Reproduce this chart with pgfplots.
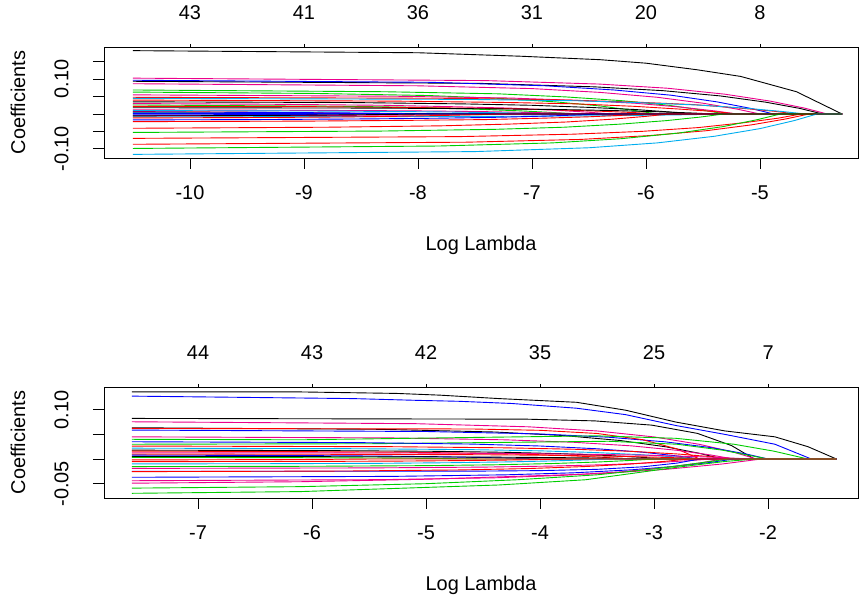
\documentclass[border=0pt]{standalone}
\usepackage{fontspec}
\setmainfont{Liberation Sans}
\usepackage{pgfplots}
\pgfplotsset{compat=1.18}
\definecolor{rgreen}{RGB}{0,205,0}
\pgfplotsset{
  glm/.style={scale only axis, width=754bp, height=111bp, anchor=south west,
    axis line style={line width=0.8bp}, tick style={line width=0.8bp, black},
    tick align=outside, major tick length=11bp,
    xtick pos=left, ytick pos=left,
    tick label style={font=\fontsize{20}{24}\selectfont},
    label style={font=\fontsize{20}{24}\selectfont},
    yticklabel style={rotate=90, anchor=south},
    xticklabel shift=13bp, yticklabel shift=21bp,
    xlabel={Log Lambda}, ylabel={Coefficients},
    xlabel style={at={(axis description cs:0.5,-0.79)}, anchor=center},
    ylabel style={at={(axis description cs:-0.114,0.5)}, anchor=center},
  },
  dfax/.style={scale only axis, width=754bp, height=111bp, anchor=south west,
    axis x line*=top, axis y line=none, axis line style={line width=0.8bp},
    tick style={line width=0.8bp, black}, tick align=outside, major tick length=3bp,
    tick label style={font=\fontsize{20}{24}\selectfont},
    xticklabel shift=21bp,
    ymin=0, ymax=1,
  },
  lk/.style={black, line width=0.9bp},
  lr/.style={red, line width=0.9bp},
  lg/.style={rgreen, line width=0.9bp},
  lb/.style={blue, line width=0.9bp},
  lc/.style={cyan, line width=0.9bp},
  lm/.style={magenta, line width=0.9bp},
}
\begin{document}
\begin{tikzpicture}
\path[use as bounding box] (0,0) rectangle (864bp,604bp);

% ---------- top panel ----------
\begin{axis}[glm, at={(104bp,446bp)},
  xmin=-10.754, xmax=-4.14, ymin=-0.1264, ymax=0.1925,
  xtick={-10,-9,-8,-7,-6,-5}, xticklabels={-10,-9,-8,-7,-6,-5},
  ytick={-0.10,-0.05,0,0.05,0.10,0.15}, yticklabels={-0.10,,,,0.10,}]
\addplot[lk] coordinates {(-10.5,0.182)(-8,0.176)(-7.1,0.166)(-6.4,0.156)(-6,0.146)(-5.55,0.127)(-5.17,0.108)(-4.68,0.064)(-4.28,0)};
\addplot[lm] coordinates {(-10.5,0.103)(-7.41,0.096)(-6.41,0.086)(-5.81,0.074)(-5.31,0.057)(-4.91,0.037)(-4.61,0.017)(-4.41,0)(-4.28,0)};
\addplot[lk] coordinates {(-10.5,0.094)(-7.45,0.088)(-6.45,0.078)(-5.85,0.067)(-5.35,0.052)(-4.95,0.034)(-4.65,0.016)(-4.45,0)(-4.28,0)};
\addplot[lb] coordinates {(-10.5,0.097)(-7.88,0.091)(-6.88,0.081)(-6.28,0.069)(-5.78,0.054)(-5.38,0.035)(-5.08,0.016)(-4.88,0)(-4.28,0)};
\addplot[lm] coordinates {(-10.5,0.087)(-8,0.081)(-7,0.073)(-6.4,0.062)(-5.9,0.048)(-5.5,0.031)(-5.2,0.014)(-5,0)(-4.28,0)};
\addplot[lg] coordinates {(-10.5,0.069)(-8.3,0.064)(-7.3,0.058)(-6.7,0.049)(-6.2,0.038)(-5.8,0.025)(-5.5,0.011)(-5.3,0)(-4.28,0)};
\addplot[lg] coordinates {(-10.5,0.063)(-8.9,0.059)(-7.9,0.053)(-7.3,0.045)(-6.8,0.035)(-6.4,0.023)(-6.1,0.010)(-5.9,0)(-4.28,0)};
\addplot[lm] coordinates {(-10.5,0.055)(-8.2,0.051)(-7.2,0.046)(-6.6,0.039)(-6.1,0.031)(-5.7,0.020)(-5.4,0.009)(-5.2,0)(-4.28,0)};
\addplot[lr] coordinates {(-10.5,0.048)(-7.68,0.045)(-6.68,0.040)(-6.08,0.034)(-5.58,0.027)(-5.18,0.017)(-4.88,0.008)(-4.68,0)(-4.28,0)};
\addplot[lc] coordinates {(-10.5,0.045)(-7.6,0.042)(-6.6,0.038)(-6,0.032)(-5.5,0.025)(-5.1,0.016)(-4.8,0.007)(-4.6,0)(-4.28,0)};
\addplot[lr] coordinates {(-10.5,0.040)(-8.2,0.037)(-7.2,0.033)(-6.6,0.029)(-6.1,0.022)(-5.7,0.014)(-5.4,0.007)(-5.2,0)(-4.28,0)};
\addplot[lk] coordinates {(-10.5,0.035)(-8.6,0.033)(-7.6,0.029)(-7,0.025)(-6.5,0.019)(-6.1,0.013)(-5.8,0.006)(-5.6,0)(-4.28,0)};
\addplot[lm] coordinates {(-10.5,0.030)(-9.3,0.028)(-8.3,0.025)(-7.7,0.021)(-7.2,0.017)(-6.8,0.011)(-6.5,0.005)(-6.3,0)(-4.28,0)};
\addplot[lg] coordinates {(-10.5,0.026)(-9.6,0.024)(-8.6,0.022)(-8,0.019)(-7.5,0.014)(-7.1,0.009)(-6.8,0.004)(-6.6,0)(-4.28,0)};
\addplot[lr] coordinates {(-10.5,0.022)(-8.9,0.021)(-7.9,0.018)(-7.3,0.016)(-6.8,0.012)(-6.4,0.008)(-6.1,0.004)(-5.9,0)(-4.28,0)};
\addplot[lk] coordinates {(-10.5,0.018)(-8.4,0.017)(-7.4,0.015)(-6.8,0.013)(-6.3,0.010)(-5.9,0.0065)(-5.6,0.003)(-5.4,0)(-4.28,0)};
\addplot[lm] coordinates {(-10.5,0.012)(-9.5,0.011)(-8.5,0.010)(-7.9,0.0086)(-7.4,0.0067)(-7,0.0043)(-6.7,0.002)(-6.5,0)(-4.28,0)};
\addplot[lc] coordinates {(-10.5,0.010)(-9.8,0.0093)(-8.8,0.0084)(-8.2,0.0072)(-7.7,0.0056)(-7.3,0.0036)(-7,0.0017)(-6.8,0)(-4.28,0)};
\addplot[lr] coordinates {(-10.5,0.0069)(-9.7,0.0057)(-9.2,0.0044)(-8.8,0.0029)(-8.5,0.0013)(-8.3,0)(-4.28,0)};
\addplot[lb] coordinates {(-10.5,0.0055)(-9.8,0.005)(-9.2,0.0043)(-8.7,0.0033)(-8.3,0.0022)(-8,0.001)(-7.8,0)(-4.28,0)};
\addplot[lg] coordinates {(-10.5,0.003)(-9.9,0.0022)(-9.5,0.0014)(-9.2,0.0007)(-9,0)(-4.28,0)};
\addplot[lb] coordinates {(-10.5,0.002)(-9.2,0.0017)(-8.6,0.0014)(-8.1,0.0011)(-7.7,0.0007)(-7.4,0.0003)(-7.2,0)(-4.28,0)};
\addplot[lb] coordinates {(-10.5,-0.0025)(-9.9,-0.0021)(-9.4,-0.0017)(-9,-0.0011)(-8.7,-0.0005)(-8.5,0)(-4.28,0)};
\addplot[lm] coordinates {(-10.5,-0.005)(-10,-0.0047)(-9,-0.0042)(-8.4,-0.0036)(-7.9,-0.0028)(-7.5,-0.0018)(-7.2,-0.0008)(-7,0)(-4.28,0)};
\addplot[lc] coordinates {(-10.5,-0.008)(-8.3,-0.0075)(-7.3,-0.0067)(-6.7,-0.0057)(-6.2,-0.0044)(-5.8,-0.0029)(-5.5,-0.0013)(-5.3,0)(-4.28,0)};
\addplot[lr] coordinates {(-10.5,-0.0113)(-9.3,-0.010)(-8.7,-0.0086)(-8.2,-0.0067)(-7.8,-0.0043)(-7.5,-0.002)(-7.3,0)(-4.28,0)};
\addplot[lb] coordinates {(-10.5,-0.017)(-9.4,-0.016)(-8.4,-0.014)(-7.8,-0.012)(-7.3,-0.0094)(-6.9,-0.0062)(-6.6,-0.0028)(-6.4,0)(-4.28,0)};
\addplot[lr] coordinates {(-10.5,-0.022)(-9,-0.0205)(-8,-0.018)(-7.4,-0.016)(-6.9,-0.012)(-6.5,-0.008)(-6.2,-0.0036)(-6,0)(-4.28,0)};
\addplot[lr] coordinates {(-10.5,-0.041)(-8.8,-0.038)(-7.8,-0.034)(-7.2,-0.029)(-6.7,-0.023)(-6.3,-0.015)(-6,-0.0068)(-5.8,0)(-4.28,0)};
\addplot[lg] coordinates {(-10.5,-0.053)(-8.32,-0.049)(-7.32,-0.044)(-6.72,-0.038)(-6.22,-0.029)(-5.82,-0.019)(-5.52,-0.0087)(-5.32,0)(-4.28,0)};
\addplot[lr] coordinates {(-10.5,-0.070)(-7.64,-0.065)(-6.64,-0.058)(-6.04,-0.050)(-5.54,-0.039)(-5.14,-0.025)(-4.84,-0.012)(-4.64,0)(-4.28,0)};
\addplot[lr] coordinates {(-10.5,-0.087)(-7.57,-0.081)(-6.57,-0.073)(-5.97,-0.062)(-5.47,-0.048)(-5.07,-0.031)(-4.77,-0.014)(-4.57,0)(-4.28,0)};
\addplot[lg] coordinates {(-10.5,-0.099)(-7.82,-0.092)(-6.82,-0.083)(-6.22,-0.071)(-5.72,-0.055)(-5.32,-0.036)(-5.02,-0.016)(-4.82,0)(-4.28,0)};
\addplot[lc] coordinates {(-10.5,-0.116)(-7.5,-0.108)(-6.5,-0.097)(-5.9,-0.083)(-5.4,-0.064)(-5,-0.042)(-4.7,-0.019)(-4.5,0)(-4.28,0)};
\addplot[lk] coordinates {(-10.5,-0.0053)(-10,-0.005)(-9.4,-0.0043)(-8.9,-0.0033)(-8.5,-0.0022)(-8.2,-0.001)(-8,0)(-4.28,0)};
\end{axis}
\begin{axis}[dfax, at={(104bp,446bp)}, xmin=-10.754, xmax=-4.14,
  xtick={-10,-9,-8,-7,-6,-5}, xticklabels={43,41,36,31,20,8}]
\end{axis}

% ---------- bottom panel ----------
\begin{axis}[glm, at={(104bp,106bp)},
  xmin=-7.825, xmax=-1.211, ymin=-0.079, ymax=0.146,
  xtick={-7,-6,-5,-4,-3,-2}, xticklabels={-7,-6,-5,-4,-3,-2},
  ytick={-0.05,0,0.05,0.10}, yticklabels={-0.05,,,0.10}]
\addplot[lk] coordinates {(-7.58,0.136)(-6.1,0.136)(-5.26,0.133)(-4.88,0.1295)(-4.36,0.1225)(-3.68,0.115)(-3.25,0.099)(-2.81,0.075)(-2.38,0.057)(-1.94,0.045)(-1.65,0.025)(-1.40,0)};
\addplot[lb] coordinates {(-7.58,0.1275)(-5.64,0.1225)(-5.09,0.119)(-4.71,0.117)(-4.25,0.1126)(-3.68,0.103)(-3.25,0.090)(-2.81,0.068)(-2.38,0.050)(-1.94,0.030)(-1.62,0)(-1.40,0)};
\addplot[lk] coordinates {(-7.58,0.0823)(-4.12,0.0808)(-3.52,0.0773)(-3.02,0.0687)(-2.62,0.052)(-2.32,0.0272)(-2.12,0)(-1.40,0)};
\addplot[lm] coordinates {(-7.58,0.0755)(-5.1,0.0717)(-4.1,0.0653)(-3.5,0.0569)(-3.0,0.0448)(-2.6,0.0297)(-2.3,0.0137)(-2.1,0)(-1.40,0)};
\addplot[lk] coordinates {(-7.58,0.0634)(-5.4,0.0602)(-4.4,0.0548)(-3.8,0.0477)(-3.3,0.0376)(-2.9,0.0249)(-2.6,0.0115)(-2.4,0)(-1.40,0)};
\addplot[lb] coordinates {(-7.58,0.0587)(-5.0,0.0558)(-4.0,0.0508)(-3.4,0.0442)(-2.9,0.0348)(-2.5,0.0231)(-2.2,0.0106)(-2.0,0)(-1.40,0)};
\addplot[lr] coordinates {(-7.58,0.062)(-4.6,0.0609)(-4.0,0.0582)(-3.5,0.0518)(-3.1,0.0392)(-2.8,0.0205)(-2.6,0)(-1.40,0)};
\addplot[lm] coordinates {(-7.58,0.045)(-5.3,0.0428)(-4.3,0.0389)(-3.7,0.0339)(-3.2,0.0267)(-2.8,0.0177)(-2.5,0.0081)(-2.3,0)(-1.40,0)};
\addplot[lg] coordinates {(-7.58,0.040)(-6.1,0.039)(-4.5,0.044)(-3.5,0.047)(-2.81,0.042)(-2.3,0.030)(-1.95,0.016)(-1.65,0)(-1.40,0)};
\addplot[lg] coordinates {(-7.58,0.030)(-5.5,0.031)(-4.2,0.034)(-3.4,0.036)(-2.8,0.030)(-2.4,0.018)(-2.0,0)(-1.40,0)};
\addplot[lb] coordinates {(-7.58,0.035)(-5.6,0.0333)(-4.6,0.0303)(-4.0,0.0264)(-3.5,0.0208)(-3.1,0.0138)(-2.8,0.0063)(-2.6,0)(-1.40,0)};
\addplot[lr] coordinates {(-7.58,0.0263)(-5.3,0.025)(-4.3,0.0227)(-3.7,0.0198)(-3.2,0.0156)(-2.8,0.0103)(-2.5,0.0048)(-2.3,0)(-1.40,0)};
\addplot[lc] coordinates {(-7.58,0.022)(-5.6,0.0209)(-4.6,0.019)(-4.0,0.0166)(-3.5,0.013)(-3.1,0.0086)(-2.8,0.004)(-2.6,0)(-1.40,0)};
\addplot[lk] coordinates {(-7.58,0.018)(-5.9,0.0171)(-4.9,0.0156)(-4.3,0.0136)(-3.8,0.0107)(-3.4,0.0071)(-3.1,0.0033)(-2.9,0)(-1.40,0)};
\addplot[lr] coordinates {(-7.58,0.016)(-6.2,0.0152)(-5.2,0.0138)(-4.6,0.012)(-4.1,0.0095)(-3.7,0.0063)(-3.4,0.0029)(-3.2,0)(-1.40,0)};
\addplot[lm] coordinates {(-7.58,0.0128)(-5.15,0.0122)(-4.15,0.0111)(-3.55,0.0096)(-3.05,0.0076)(-2.65,0.005)(-2.35,0.0023)(-2.15,0)(-1.40,0)};
\addplot[lr] coordinates {(-7.58,0.010)(-5.5,0.0095)(-4.5,0.0087)(-3.9,0.0075)(-3.4,0.0059)(-3.0,0.0039)(-2.7,0.0018)(-2.5,0)(-1.40,0)};
\addplot[lb] coordinates {(-7.58,0.0078)(-7.0,0.0076)(-6.0,0.0069)(-5.4,0.006)(-4.9,0.0047)(-4.5,0.0031)(-4.2,0.0014)(-4.0,0)(-1.40,0)};
\addplot[lk] coordinates {(-7.58,0.005)(-6.0,0.0048)(-5.0,0.0043)(-4.4,0.0038)(-3.9,0.003)(-3.5,0.002)(-3.2,0.0009)(-3.0,0)(-1.40,0)};
\addplot[lg] coordinates {(-7.58,0.0032)(-6.5,0.0029)(-5.9,0.0026)(-5.4,0.002)(-5.0,0.0013)(-4.7,0.0006)(-4.5,0)(-1.40,0)};
\addplot[lr] coordinates {(-7.58,-0.0053)(-6.8,-0.0051)(-5.8,-0.0047)(-5.2,-0.0041)(-4.7,-0.0032)(-4.3,-0.0021)(-4.0,-0.001)(-3.8,0)(-1.40,0)};
\addplot[lc] coordinates {(-7.58,-0.0099)(-6.4,-0.0095)(-5.4,-0.0087)(-4.8,-0.0075)(-4.3,-0.0059)(-3.9,-0.0039)(-3.6,-0.0018)(-3.4,0)(-1.40,0)};
\addplot[lg] coordinates {(-7.58,-0.0153)(-6.0,-0.0147)(-5.0,-0.0134)(-4.4,-0.0117)(-3.9,-0.0092)(-3.5,-0.0061)(-3.2,-0.0028)(-3.0,0)(-1.40,0)};
\addplot[lm] coordinates {(-7.58,-0.019)(-5.5,-0.018)(-4.5,-0.0164)(-3.9,-0.0143)(-3.4,-0.0113)(-3.0,-0.0075)(-2.7,-0.0034)(-2.5,0)(-1.40,0)};
\addplot[lb] coordinates {(-7.58,-0.025)(-4.6,-0.0246)(-4.0,-0.0235)(-3.5,-0.0209)(-3.1,-0.0158)(-2.8,-0.0083)(-2.6,0)(-1.40,0)};
\addplot[lr] coordinates {(-7.58,-0.0256)(-5.7,-0.0243)(-4.7,-0.0221)(-4.1,-0.0193)(-3.6,-0.0152)(-3.2,-0.0101)(-2.9,-0.0046)(-2.7,0)(-1.40,0)};
\addplot[lb] coordinates {(-7.58,-0.037)(-5.3,-0.0352)(-4.3,-0.032)(-3.7,-0.0279)(-3.2,-0.0219)(-2.8,-0.0145)(-2.5,-0.0067)(-2.3,0)(-1.40,0)};
\addplot[lm] coordinates {(-7.58,-0.044)(-5.4,-0.0418)(-4.4,-0.0381)(-3.8,-0.0331)(-3.3,-0.0261)(-2.9,-0.0173)(-2.6,-0.008)(-2.4,0)(-1.40,0)};
\addplot[lm] coordinates {(-7.58,-0.049)(-6.1,-0.046)(-5,-0.041)(-4.2,-0.035)(-3.5,-0.030)(-2.9,-0.021)(-2.4,-0.010)(-2.06,0)(-1.40,0)};
\addplot[lg] coordinates {(-7.58,-0.059)(-6.1,-0.056)(-5,-0.050)(-4.2,-0.042)(-3.5,-0.032)(-3.0,-0.020)(-2.6,-0.008)(-2.35,0)(-1.40,0)};
\addplot[lg] coordinates {(-7.58,-0.0695)(-6.1,-0.066)(-4.36,-0.0526)(-3.6,-0.042)(-3.25,-0.031)(-2.81,-0.017)(-2.38,-0.005)(-2.12,0)(-1.40,0)};
\addplot[lr] coordinates {(-7.58,-0.00175)(-6.9,-0.0015)(-6.4,-0.0012)(-6.0,-0.0008)(-5.7,-0.0004)(-5.5,0)(-1.40,0)};
\end{axis}
\begin{axis}[dfax, at={(104bp,106bp)}, xmin=-7.825, xmax=-1.211,
  xtick={-7,-6,-5,-4,-3,-2}, xticklabels={44,43,42,35,25,7}]
\end{axis}
\end{tikzpicture}
\end{document}
